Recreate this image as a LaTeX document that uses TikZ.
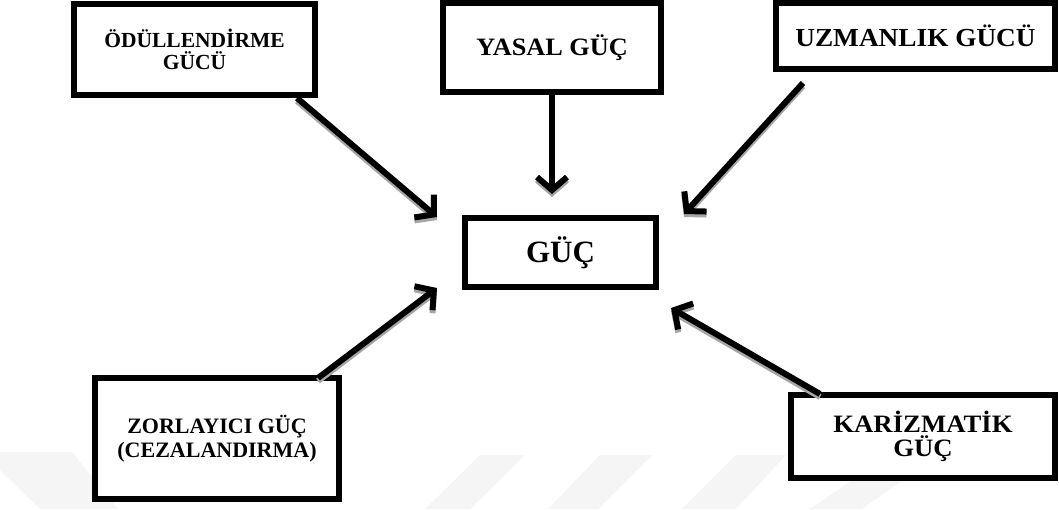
\documentclass[tikz,border=0pt]{standalone}
\usepackage{fontspec}
\setmainfont{Liberation Serif}
\newfontfamily\wideA{Liberation Serif}[FakeStretch=1.05]
\newfontfamily\wideC{Liberation Serif}[FakeStretch=1.07]
\usetikzlibrary{arrows.meta,shadows}
\tikzset{
  box/.style={draw=black,line width=6pt,fill=white,inner sep=0pt,align=center,
    drop shadow={shadow xshift=0pt,shadow yshift=-3pt,fill=gray!70,opacity=1}},
  arr/.style={line width=6pt,-{Straight Barb[length=13pt,width=30pt]}},
  arrshadow/.style={arr,draw=gray!70,transform canvas={yshift=-3pt}},
  wm/.style={fill=gray!8,draw=none}
}
\begin{document}
\begin{tikzpicture}[x=1pt,y=-1pt]
\useasboundingbox (0,0) rectangle (1059,509);
% faint watermark
\fill[wm] (0,452) -- (72,452) -- (118,509) -- (40,509) -- (0,470) -- cycle;
\fill[wm] (480,455) -- (525,455) -- (470,509) -- (425,509) -- cycle;
\fill[wm] (600,455) -- (652,455) -- (598,509) -- (548,509) -- cycle;
\fill[wm] (736,455) -- (786,455) -- (736,509) -- (682,509) -- cycle;
\fill[wm] (870,468) -- (920,468) -- (862,509) -- (810,509) -- cycle;
% boxes
\node[box,minimum width=241pt,minimum height=91pt,
  font=\bfseries\fontsize{21.5}{21.5}\selectfont] (b1) at (194.5,49.5)
  {ÖDÜLLENDİRME\\ GÜCÜ};
\node[box,minimum width=218pt,minimum height=89pt,
  font=\wideA\bfseries\fontsize{25}{26}\selectfont] (b2) at (552,47.5)
  {YASAL GÜÇ};
\node[box,minimum width=279pt,minimum height=66pt,
  font=\wideA\bfseries\fontsize{26}{27}\selectfont] (b3) at (915.5,36)
  {UZMANLIK GÜCÜ};
\node[box,minimum width=191pt,minimum height=69pt,
  font=\bfseries\fontsize{31}{32}\selectfont] (g) at (560.5,252.5)
  {GÜÇ};
\node[box,minimum width=244pt,minimum height=121pt,
  font=\bfseries\fontsize{22}{24}\selectfont] (b4) at (217,438.5)
  {ZORLAYICI GÜÇ\\ (CEZALANDIRMA)};
\node[box,minimum width=264pt,minimum height=83pt,
  font=\wideC\bfseries\fontsize{25}{24.5}\selectfont] (b5) at (923,436.5)
  {KARİZMATİK\\ GÜÇ};
% arrow tips near the central box
\coordinate (t1) at (437,217);
\coordinate (t2) at (552,194);
\coordinate (t3) at (684,214);
\coordinate (t4) at (437,288);
\coordinate (t5) at (671,308);
% shadows of arrows
\draw[arrshadow] ([xshift=-21pt]b1.south east) -- (t1);
\draw[arrshadow] (b2.south) -- (t2);
\draw[arrshadow] ([xshift=30pt,yshift=-11pt]b3.south west) -- (t3);
\draw[arrshadow] ([xshift=-24pt,yshift=-3pt]b4.north east) -- (t4);
\draw[arrshadow] ([xshift=32pt,yshift=-2pt]b5.north west) -- (t5);
% arrows
\draw[arr] ([xshift=-21pt]b1.south east) -- (t1);
\draw[arr] (b2.south) -- (t2);
\draw[arr] ([xshift=30pt,yshift=-11pt]b3.south west) -- (t3);
\draw[arr] ([xshift=-24pt,yshift=-3pt]b4.north east) -- (t4);
\draw[arr] ([xshift=32pt,yshift=-2pt]b5.north west) -- (t5);
\end{tikzpicture}
\end{document}
